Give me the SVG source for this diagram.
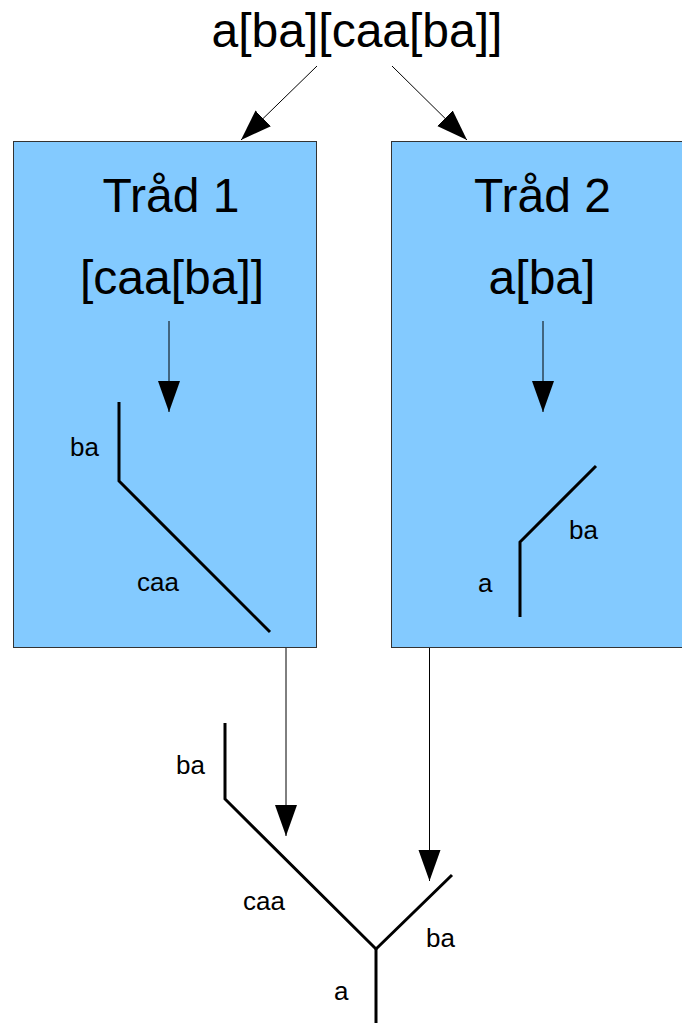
<svg xmlns="http://www.w3.org/2000/svg" width="682" height="1023" viewBox="0 0 682 1023">
<style>
.big{font-family:"Liberation Sans",Arial,sans-serif;font-size:48px;fill:#000;text-anchor:middle}
.lbl{font-family:"Liberation Sans",Arial,sans-serif;font-size:26px;fill:#000}
.box{fill:#83caff;stroke:#333;stroke-width:1}
.conn{stroke:#000;stroke-width:1;fill:none}
.tree{stroke:#000;stroke-width:3;fill:none;stroke-linejoin:miter}
</style>
<defs>
<marker id="ah" markerUnits="userSpaceOnUse" markerWidth="32" markerHeight="24" refX="31" refY="11" orient="auto">
<path d="M0,0 L31,11 L0,22 z" fill="#000"/>
</marker>
</defs>
<rect width="682" height="1023" fill="#fff"/>
<g id="title"><text class="big" x="357" y="47">a[ba][caa[ba]]</text></g>
<g id="thread1">
<rect class="box" x="13.5" y="141.5" width="303" height="506"/>
<text class="big" x="171" y="212">Tråd 1</text>
<text class="big" x="172" y="294">[caa[ba]]</text>
<polyline class="tree" points="119,402 119,481 270,632"/>
<text class="lbl" x="70" y="456">ba</text>
<text class="lbl" x="137" y="591">caa</text>
</g>
<g id="thread2">
<rect class="box" x="391.5" y="141.5" width="291" height="506"/>
<text class="big" x="542.5" y="212">Tråd 2</text>
<text class="big" x="542" y="294">a[ba]</text>
<polyline class="tree" points="520,617 520,542 596,466"/>
<text class="lbl" x="569" y="539">ba</text>
<text class="lbl" x="478" y="592">a</text>
</g>
<g id="result">
<polyline class="tree" points="225,723 225,799 376,949 452,875"/>
<line class="tree" x1="376" y1="949" x2="376" y2="1023"/>
<text class="lbl" x="176" y="774">ba</text>
<text class="lbl" x="243" y="910">caa</text>
<text class="lbl" x="426" y="947">ba</text>
<text class="lbl" x="334" y="1000">a</text>
</g>
<g id="connectors">
<line class="conn" x1="317" y1="66" x2="241" y2="140" marker-end="url(#ah)"/>
<line class="conn" x1="392" y1="66" x2="467" y2="140" marker-end="url(#ah)"/>
<line class="conn" x1="169" y1="321" x2="169" y2="412" marker-end="url(#ah)"/>
<line class="conn" x1="543" y1="321" x2="543" y2="412" marker-end="url(#ah)"/>
<line class="conn" x1="286" y1="648" x2="286" y2="836" marker-end="url(#ah)"/>
<line class="conn" x1="429.5" y1="648" x2="429.5" y2="881" marker-end="url(#ah)"/>
</g>
</svg>
